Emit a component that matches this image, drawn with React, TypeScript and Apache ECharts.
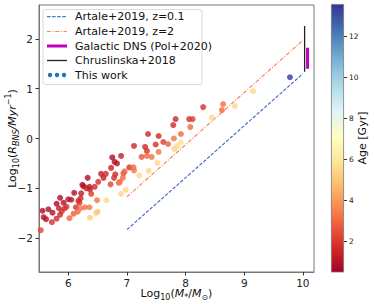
import React, { useEffect, useRef } from "react";
import * as echarts from "echarts";

const xTicks = [6, 7, 8, 9, 10];
const yTicks = [-2, -1, 0, 1, 2];
const ageTicks = [2, 4, 6, 8, 10, 12];
const ageRange = [0.5, 13.6];
const rdylbu = ["#a50026", "#d73027", "#f46d43", "#fdae61", "#fee090", "#ffffbf", "#e0f3f8", "#abd9e9", "#74add1", "#4575b4", "#313695"];

// [log10 M*, log10 R_BNS, age Gyr]
const thisWork = [
  [5.53, -1.84, 2.2], [5.56, -1.45, 0.7], [5.58, -1.58, 0.9], [5.62, -1.62, 1.0], [5.66, -1.42, 0.8],
  [5.73, -1.49, 0.8], [5.72, -1.68, 1.8], [5.8, -1.31, 0.7], [5.8, -1.61, 1.6], [5.84, -1.4, 1.2],
  [5.86, -1.19, 0.8], [5.86, -1.53, 1.5], [5.89, -1.46, 1.7], [5.92, -1.29, 0.8], [5.94, -1.4, 1.6],
  [5.97, -1.37, 1.8], [6.0, -1.22, 1.0], [6.05, -1.23, 1.0], [6.02, -1.6, 3.0], [6.09, -1.51, 2.8],
  [6.1, -1.09, 0.8], [6.13, -1.38, 1.8], [6.16, -1.47, 3.0], [6.17, -1.25, 1.5], [6.19, -1.29, 1.8],
  [6.21, -1.2, 1.5], [6.21, -1.4, 3.2], [6.22, -1.1, 1.2], [6.24, -0.93, 0.8], [6.26, -0.96, 0.9],
  [6.28, -1.38, 3.2], [6.31, -1.0, 1.4], [6.33, -0.79, 0.8], [6.36, -0.97, 1.1], [6.37, -1.02, 1.4],
  [6.36, -1.38, 3.2], [6.37, -1.59, 5.3], [6.39, -1.11, 2.0], [6.45, -0.97, 1.6], [6.47, -1.5, 5.5],
  [6.5, -1.47, 5.0], [6.49, -1.24, 3.3], [6.51, -0.87, 1.7], [6.56, -0.71, 1.2], [6.6, -0.79, 1.3],
  [6.64, -0.71, 1.5], [6.65, -1.24, 5.5], [6.72, -0.92, 2.2], [6.75, -0.38, 0.8], [6.79, -0.47, 0.9],
  [6.83, -0.5, 1.0], [6.73, -0.59, 1.4], [6.8, -0.72, 1.6], [6.78, -0.79, 1.8], [6.86, -0.89, 3.0],
  [6.88, -0.87, 3.2], [6.9, -0.35, 1.3], [6.9, -1.11, 5.5], [6.94, -0.7, 2.5], [6.96, -0.66, 3.0],
  [6.93, -0.79, 3.0], [6.98, -1.03, 5.5], [7.04, -0.58, 1.8], [7.11, -0.58, 3.0], [7.12, -0.64, 3.3],
  [7.21, -0.74, 5.5], [7.25, -0.37, 2.6], [7.12, -0.15, 1.5], [7.31, -0.17, 1.6], [7.36, 0.09, 1.5],
  [7.34, -0.25, 1.8], [7.34, -0.35, 3.0], [7.37, -0.65, 5.5], [7.42, -0.37, 3.2], [7.49, -0.12, 1.7],
  [7.54, 0.05, 1.5], [7.54, -0.27, 3.2], [7.52, -0.49, 5.5], [7.62, -0.07, 2.0], [7.7, -0.11, 2.8],
  [7.8, 0.0, 3.2], [7.79, 0.27, 1.6], [7.83, 0.39, 1.5], [7.81, -0.21, 5.3], [7.86, -0.15, 5.5],
  [7.92, -0.08, 5.8], [7.92, 0.09, 3.0], [8.06, 0.39, 1.8], [8.12, 0.39, 2.0], [8.08, 0.23, 3.0],
  [8.3, 0.63, 1.8], [8.45, 0.42, 5.5], [8.62, 0.57, 3.0], [8.64, 0.69, 3.2], [8.84, 0.65, 5.5],
  [9.15, 0.95, 5.5], [9.78, 1.23, 13.5],
];

const artaleZ01 = [[7, -1.83], [10, 1.3]];
const artaleZ2 = [[7, -1.17], [10, 1.97]];
const chruslinska = [[10.03, 1.34], [10.03, 2.26]];
const galacticDNS = [[10.08, 1.4], [10.08, 1.82]];

const legendLabels = ["Artale+2019, z=0.1", "Artale+2019, z=2", "Galactic DNS (Pol+2020)", "Chruslinska+2018", "This work"];

const FONT = "DejaVu Sans";
const minus = (v: number) => String(v).replace("-", "\u2212");

const richName = {
  n: { fontSize: 11, lineHeight: 16, fontFamily: FONT, color: "#111" },
  i: { fontSize: 11, lineHeight: 16, fontStyle: "italic", fontFamily: FONT, color: "#111" },
  s: { fontSize: 8, lineHeight: 8, verticalAlign: "bottom", fontFamily: FONT, color: "#111" },
  si: { fontSize: 8, lineHeight: 8, verticalAlign: "bottom", fontStyle: "italic", fontFamily: FONT, color: "#111" },
  sup: { fontSize: 8, lineHeight: 8, verticalAlign: "top", fontFamily: FONT, color: "#111" },
};

export default function App() {
  const ref = useRef<HTMLDivElement>(null);
  useEffect(() => {
    const chart = echarts.init(ref.current!, null, { renderer: "svg" });
    const rowY = [16.7, 31.5, 46, 60.5, 75];
    const option: any = {
      animation: false,
      textStyle: { fontFamily: FONT },
      grid: [
        { left: 39, top: 5, width: 275, height: 267, show: true, borderColor: "#777", borderWidth: 1, backgroundColor: "transparent", outerBoundsMode: "none" },
        { left: 331, top: 4, width: 13, height: 268, outerBoundsMode: "none" },
      ],
      xAxis: [
        {
          type: "value", gridIndex: 0, min: 5.5, max: 10.19,
          splitLine: { show: false },
          axisLine: { show: true, onZero: false, lineStyle: { color: "#777" } },
          axisTick: { show: true, length: 3.5, customValues: xTicks, lineStyle: { color: "#333" } },
          axisLabel: { customValues: xTicks, fontSize: 10.5, color: "#222", margin: 5, formatter: minus },
          name: "{n|Log}{s|10}{n|(}{i|M}{si|*}{n|/}{i|M}{s|\u2299}{n|)}",
          nameLocation: "middle", nameGap: 13, nameMoveOverlap: false,
          nameTextStyle: { rich: richName },
        },
        { type: "category", gridIndex: 1, data: ["c"], show: false },
      ],
      yAxis: [
        {
          type: "value", gridIndex: 0, min: -2.68, max: 2.68,
          splitLine: { show: false },
          axisLine: { show: true, onZero: false, lineStyle: { color: "#777" } },
          axisTick: { show: true, length: 3.5, customValues: yTicks, lineStyle: { color: "#333" } },
          axisLabel: { customValues: yTicks, fontSize: 10.5, color: "#222", margin: 6, formatter: minus },
          name: "{n|Log}{s|10}{n|(}{i|R}{si|BNS}{i|/Myr}{sup|\u22121}{n|)}",
          nameLocation: "middle", nameGap: 19, nameRotate: 90, nameMoveOverlap: false,
          nameTextStyle: { rich: richName },
        },
        {
          type: "value", gridIndex: 1, position: "right", min: ageRange[0], max: ageRange[1],
          splitLine: { show: false },
          axisLine: { show: false },
          axisTick: { show: true, length: 3, customValues: ageTicks, lineStyle: { color: "#333" } },
          axisLabel: { customValues: ageTicks, fontSize: 7.5, color: "#222", margin: 5 },
          name: "Age [Gyr]", nameLocation: "middle", nameGap: 13, nameRotate: 90, nameMoveOverlap: false,
          nameTextStyle: { fontSize: 11, color: "#111", fontFamily: FONT },
        },
      ],
      visualMap: {
        show: false, type: "continuous", seriesIndex: 0, dimension: 2,
        min: ageRange[0], max: ageRange[1], inRange: { color: rdylbu },
      },
      series: [
        { type: "scatter", xAxisIndex: 0, yAxisIndex: 0, data: thisWork, symbolSize: 6, z: 5 },
        { type: "line", xAxisIndex: 0, yAxisIndex: 0, data: artaleZ01, showSymbol: false, symbol: "none",
          lineStyle: { color: "#4a72c2", width: 1.2, type: [3.5, 1.6] }, z: 3 },
        { type: "line", xAxisIndex: 0, yAxisIndex: 0, data: artaleZ2, showSymbol: false, symbol: "none",
          lineStyle: { color: "#f7875a", width: 1.2, type: [4, 1.6, 1, 1.6] }, z: 3 },
        { type: "line", xAxisIndex: 0, yAxisIndex: 0, data: chruslinska, showSymbol: false, symbol: "none",
          lineStyle: { color: "#222", width: 1.3 }, z: 3 },
        { type: "line", xAxisIndex: 0, yAxisIndex: 0, data: galacticDNS, showSymbol: false, symbol: "none",
          lineStyle: { color: "#c000c0", width: 3 }, z: 3 },
        {
          type: "bar", xAxisIndex: 1, yAxisIndex: 1, data: [ageRange[1]], barWidth: "100%",
          itemStyle: {
            color: new echarts.graphic.LinearGradient(0, 0, 0, 1,
              rdylbu.slice().reverse().map((c, i) => ({ offset: i / (rdylbu.length - 1), color: c }))),
            borderColor: "#777", borderWidth: 0.8,
          },
          silent: true,
        },
      ],
      graphic: [
        { type: "rect", shape: { x: 43, y: 9.5, width: 159, height: 75, r: 2.5 },
          style: { fill: "rgba(255,255,255,0.85)", stroke: "#d0d0d0", lineWidth: 0.8 }, z: 10 },
        { type: "line", shape: { x1: 47, y1: rowY[0], x2: 67, y2: rowY[0] },
          style: { stroke: "#4a72c2", lineWidth: 1.2, lineDash: [3.5, 1.6] }, z: 11 },
        { type: "line", shape: { x1: 47, y1: rowY[1], x2: 67, y2: rowY[1] },
          style: { stroke: "#f7875a", lineWidth: 1.2, lineDash: [4, 1.6, 1, 1.6] }, z: 11 },
        { type: "line", shape: { x1: 47, y1: rowY[2], x2: 67, y2: rowY[2] },
          style: { stroke: "#c000c0", lineWidth: 3 }, z: 11 },
        { type: "line", shape: { x1: 47, y1: rowY[3], x2: 67, y2: rowY[3] },
          style: { stroke: "#222", lineWidth: 1.3 }, z: 11 },
        { type: "circle", shape: { cx: 50, cy: rowY[4], r: 2.2 }, style: { fill: "#1f77b4" }, z: 11 },
        { type: "circle", shape: { cx: 57, cy: rowY[4], r: 2.2 }, style: { fill: "#1f77b4" }, z: 11 },
        { type: "circle", shape: { cx: 64, cy: rowY[4], r: 2.2 }, style: { fill: "#1f77b4" }, z: 11 },
        ...legendLabels.map((t, i) => ({
          type: "text", x: 75, y: rowY[i], z: 11,
          style: { text: t, fontSize: 11, fontFamily: FONT, fill: "#111", verticalAlign: "middle", align: "left" },
        })),
      ],
    };
    chart.setOption(option);
    return () => chart.dispose();
  }, []);
  return <div ref={ref} style={{ position: "absolute", left: 0, top: 0, width: 374, height: 304 }} />;
}
